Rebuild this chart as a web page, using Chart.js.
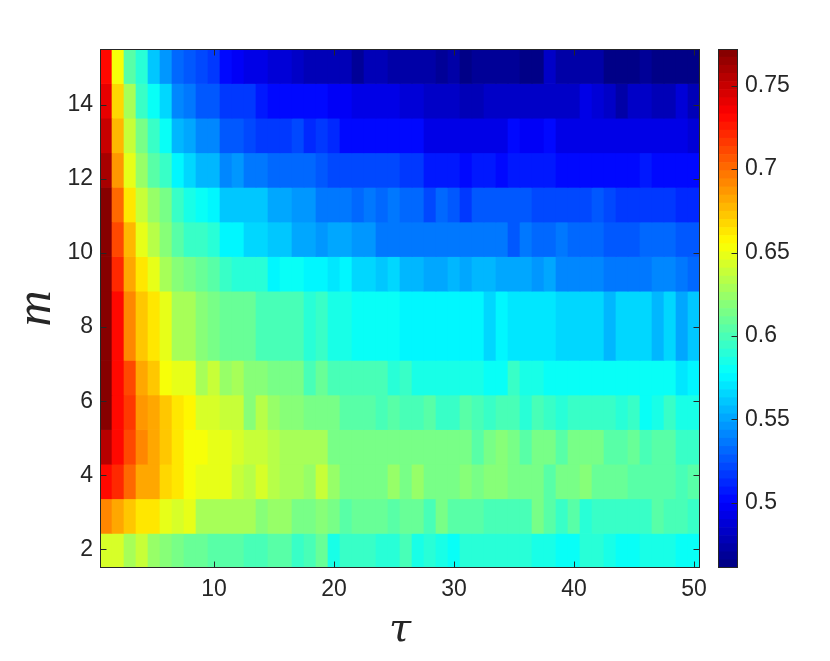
<!DOCTYPE html>
<html><head><meta charset="utf-8">
<style>html,body{margin:0;padding:0;background:#fff}canvas{position:absolute;left:0;top:0}</style>
<script src="https://cdn.jsdelivr.net/npm/chart.js@4"></script></head>
<body><canvas id="main" width="830" height="661"></canvas><canvas id="bar" width="830" height="661"></canvas>
<script>
const tauLabels=[];for(let t=1;t<=50;t++)tauLabels.push(t);
const tauTicks=[10,20,30,40,50];
const mTicks=[2,4,6,8,10,12,14];
const cbTicks=[0.5,0.55,0.6,0.65,0.7,0.75];
const vMin=0.461,vMax=0.772;
// m-axis edges of the drawn bands, top to bottom
const mEdges=[15.5,14.567,13.633,12.7,11.767,10.833,9.9,8.967,7.1,6.167,5.233,4.3,3.367,2.433,1.5];
const band1=[.733,.655,.605,.59,.561,.547,.533,.526,.52,.518,.5,.497,.494,.491,.488,.486,.484,.479,.479,.479,.479,.47,.476,.476,.472,.472,.472,.472,.466,.472,.464,.469,.469,.469,.469,.463,.463,.482,.472,.472,.472,.472,.461,.461,.461,.468,.462,.462,.462,.462];
const band2=[.739,.666,.627,.597,.58,.566,.543,.536,.527,.527,.518,.515,.515,.508,.503,.503,.502,.5,.503,.496,.496,.491,.491,.491,.491,.488,.488,.484,.481,.485,.477,.477,.481,.481,.483,.483,.483,.483,.483,.483,.491,.486,.481,.472,.481,.481,.476,.476,.486,.478];
const band3=[.75,.676,.636,.613,.597,.578,.558,.55,.54,.54,.525,.528,.521,.518,.518,.518,.522,.512,.515,.51,.503,.503,.503,.503,.503,.5,.5,.495,.495,.495,.495,.495,.495,.495,.5,.496,.496,.5,.495,.495,.495,.495,.491,.491,.491,.491,.491,.491,.491,.488];
const band4=[.758,.689,.65,.624,.605,.594,.573,.567,.558,.558,.54,.545,.536,.536,.533,.533,.533,.533,.527,.52,.52,.52,.52,.52,.52,.515,.515,.508,.508,.508,.503,.508,.508,.5,.507,.507,.507,.507,.502,.502,.502,.502,.502,.502,.502,.506,.502,.502,.502,.502];
const band5=[.77,.7,.665,.638,.622,.612,.593,.585,.578,.573,.562,.562,.562,.562,.55,.55,.545,.545,.537,.534,.534,.53,.537,.533,.537,.53,.53,.524,.533,.526,.518,.527,.527,.529,.529,.529,.52,.52,.52,.52,.52,.527,.522,.515,.515,.519,.519,.519,.514,.514];
const band6=[.772,.712,.675,.65,.635,.62,.604,.597,.594,.589,.575,.575,.566,.566,.563,.563,.552,.553,.545,.553,.553,.545,.545,.537,.537,.537,.534,.534,.534,.534,.534,.534,.534,.538,.527,.538,.531,.531,.537,.531,.531,.531,.526,.526,.526,.531,.531,.531,.526,.526];
const band7=[.772,.722,.683,.663,.647,.631,.618,.612,.607,.604,.594,.59,.59,.59,.573,.578,.578,.575,.575,.568,.577,.565,.565,.559,.565,.558,.558,.552,.552,.558,.55,.556,.556,.552,.552,.552,.545,.553,.541,.541,.541,.541,.538,.538,.538,.538,.54,.54,.535,.53];
const band8=[.772,.733,.693,.67,.662,.647,.631,.631,.618,.614,.608,.608,.608,.6,.6,.598,.598,.588,.594,.583,.583,.578,.582,.578,.578,.573,.573,.573,.573,.573,.573,.573,.567,.574,.568,.568,.568,.568,.564,.564,.564,.564,.558,.564,.564,.564,.558,.565,.552,.562];
const band9=[.772,.733,.713,.68,.67,.655,.647,.647,.627,.637,.622,.63,.618,.618,.614,.613,.612,.598,.611,.6,.6,.6,.6,.6,.588,.595,.587,.586,.586,.583,.586,.586,.582,.582,.593,.585,.585,.578,.578,.578,.578,.578,.578,.578,.578,.578,.578,.578,.57,.576];
const band10=[.77,.733,.714,.689,.68,.67,.663,.656,.643,.643,.636,.636,.618,.632,.626,.62,.62,.615,.615,.615,.606,.603,.603,.598,.605,.6,.6,.606,.594,.594,.605,.6,.594,.6,.6,.59,.6,.594,.589,.595,.595,.595,.595,.589,.595,.582,.587,.594,.585,.585];
const band11=[.753,.733,.712,.69,.68,.671,.665,.655,.655,.65,.646,.642,.636,.64,.633,.63,.63,.63,.63,.615,.615,.615,.615,.615,.615,.615,.613,.613,.613,.613,.613,.606,.613,.618,.613,.605,.612,.612,.603,.612,.612,.612,.606,.606,.61,.598,.606,.606,.597,.594];
const band12=[.731,.722,.7,.683,.683,.667,.663,.655,.649,.649,.646,.636,.634,.642,.634,.63,.63,.622,.636,.624,.615,.615,.615,.615,.624,.616,.624,.613,.613,.613,.619,.613,.618,.62,.612,.612,.612,.603,.612,.612,.619,.609,.609,.609,.603,.603,.603,.603,.598,.605];
const band13=[.693,.683,.67,.661,.661,.646,.642,.648,.631,.631,.631,.631,.631,.617,.626,.626,.615,.613,.62,.615,.605,.611,.611,.611,.603,.609,.609,.599,.612,.604,.604,.604,.6,.6,.601,.601,.612,.604,.597,.605,.591,.597,.597,.597,.597,.597,.604,.598,.598,.593];
const band14=[.643,.643,.628,.636,.626,.618,.613,.61,.611,.605,.602,.602,.598,.598,.605,.605,.594,.601,.609,.586,.594,.594,.594,.589,.589,.601,.585,.592,.587,.578,.592,.589,.589,.589,.589,.589,.585,.585,.581,.581,.592,.592,.585,.581,.581,.585,.585,.585,.579,.579];
const bands=[band1,band2,band3,band4,band5,band6,band7,band8,band9,band10,band11,band12,band13,band14];

const LEVELS=64;
function jet(i){ // MATLAB jet(64), level i
  const t=(i+0.5)/LEVELS,c=x=>Math.round(255*Math.max(0,Math.min(1,1.5-Math.abs(4*t-x))));
  return `rgb(${c(3)},${c(2)},${c(1)})`;
}
function colorOf(v){
  let i=Math.floor((v-vMin)/(vMax-vMin)*LEVELS);
  return jet(Math.max(0,Math.min(LEVELS-1,i)));
}
const INK='#262626',TICKFONT={family:'"Liberation Sans",Arial,sans-serif',size:23};

const framePlugin={id:'frame',afterDatasetsDraw(ch,a,o){
  const {ctx,chartArea:r}=ch;const L=Math.round(r.left)+.5,R=Math.round(r.right)-.5,T=Math.round(r.top)+.5,B=Math.round(r.bottom)-.5;
  ctx.save();ctx.strokeStyle=INK;ctx.lineWidth=1;ctx.strokeRect(L,T,R-L,B-T);
  ctx.lineWidth=1;ctx.beginPath();
  const len=6;
  if(ch.scales.y){const s=ch.scales.y;for(const t of s.ticks){const p=Math.round(s.getPixelForValue(t.value))+.5;
    if(o.both){ctx.moveTo(L,p);ctx.lineTo(L+len,p);}ctx.moveTo(R,p);ctx.lineTo(R-len,p);}}
  if(o.both){const s=ch.scales.x;for(const t of s.ticks){const p=Math.round(s.getPixelForValue(t.value))+.5;
    ctx.moveTo(p,B);ctx.lineTo(p,B-len);ctx.moveTo(p,T);ctx.lineTo(p,T+len);}}
  ctx.stroke();ctx.restore();
}};

new Chart(document.getElementById('main'),{
  type:'bar',plugins:[framePlugin],
  data:{labels:tauLabels,datasets:bands.map((vals,b)=>({
    data:vals.map(()=>[mEdges[b+1],mEdges[b]]),
    backgroundColor:vals.map(colorOf),borderWidth:0,
    barPercentage:1,categoryPercentage:1,grouped:false}))},
  options:{responsive:false,animation:false,
    layout:{padding:{left:0,top:49,right:130,bottom:0}},
    plugins:{legend:{display:false},tooltip:{enabled:false},frame:{both:true}},
    scales:{
      x:{type:'category',offset:true,
        afterBuildTicks(s){s.ticks=tauTicks.map(t=>({value:t-1}));},
        afterFit(s){s.height=93;},
        grid:{display:false,drawTicks:false},border:{display:false},
        ticks:{autoSkip:false,maxRotation:0,minRotation:0,padding:8,color:INK,font:TICKFONT},
        title:{display:true,text:'τ',color:INK,padding:{top:0,bottom:6},
          font:{family:'"DejaVu Serif",serif',style:'italic',size:40}}},
      y:{type:'linear',min:1.5,max:15.5,
        afterBuildTicks(s){s.ticks=mTicks.map(v=>({value:v}));},
        afterFit(s){s.width=100;},
        grid:{display:false,drawTicks:false},border:{display:false},
        ticks:{padding:7,color:INK,font:TICKFONT},
        title:{display:true,text:'m',color:INK,padding:{top:7,bottom:0},
          font:{family:'"Liberation Serif",serif',style:'italic',size:50}}}
    }}
});

const levelIdx=[];for(let i=0;i<LEVELS;i++)levelIdx.push(i);
new Chart(document.getElementById('bar'),{
  type:'bar',plugins:[framePlugin],
  data:{labels:['c'],datasets:levelIdx.map(i=>({
    data:[[vMin+(vMax-vMin)*i/LEVELS,vMin+(vMax-vMin)*(i+1)/LEVELS]],
    backgroundColor:jet(i),borderWidth:0,barPercentage:1,categoryPercentage:1,grouped:false}))},
  options:{responsive:false,animation:false,
    layout:{padding:{left:718,top:49,right:0,bottom:93}},
    plugins:{legend:{display:false},tooltip:{enabled:false},frame:{both:false}},
    scales:{
      x:{display:false,offset:true},
      y:{type:'linear',position:'right',min:vMin,max:vMax,
        afterBuildTicks(s){s.ticks=cbTicks.map(v=>({value:v}));},
        afterFit(s){s.width=92;},
        grid:{display:false,drawTicks:false},border:{display:false},
        ticks:{padding:7,color:INK,font:TICKFONT,callback:v=>String(v)}}
    }}
});
</script></body></html>
